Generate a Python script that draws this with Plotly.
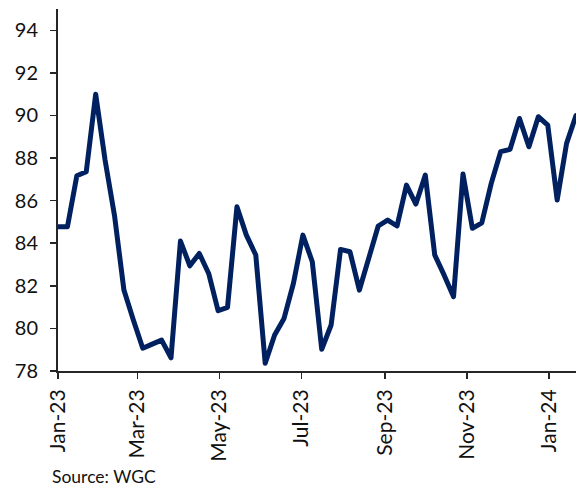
import pandas as pd
import plotly.graph_objects as go

start_date = "2023-01-01"
values = [
    84.77, 84.77, 87.17, 87.36, 91.0, 87.9, 85.3, 81.8, 80.4, 79.07,
    79.26, 79.45, 78.62, 84.1, 82.94, 83.52, 82.58, 80.83, 80.99, 85.71,
    84.38, 83.45, 78.36, 79.69, 80.47, 82.12, 84.38, 83.13, 79.02, 80.16,
    83.71, 83.60, 81.80, 83.29, 84.81, 85.09, 84.81, 86.73, 85.84, 87.2,
    83.45, 82.5, 81.49, 87.25, 84.70, 84.96, 86.81, 88.3, 88.41, 89.86,
    88.53, 89.94, 89.55, 86.03, 88.69, 90.0,
]
dates = pd.date_range(start_date, periods=len(values), freq="7D")

tick_dates = ["2023-01-01", "2023-03-01", "2023-05-01", "2023-07-01",
              "2023-09-01", "2023-11-01", "2024-01-01"]
tick_labels = ["Jan-23", "Mar-23", "May-23", "Jul-23", "Sep-23", "Nov-23", "Jan-24"]
y_ticks = [78, 80, 82, 84, 86, 88, 90, 92, 94]
source_text = "Source: WGC"

fig = go.Figure()
fig.add_trace(go.Scatter(
    x=dates, y=values, mode="lines",
    line=dict(color="#002060", width=5),
    hoverinfo="skip",
))

axis_color = "#262626"
font_family = "Lato"

fig.update_layout(
    width=576, height=486,
    margin=dict(l=58, r=0, t=9, b=115, autoexpand=False),
    paper_bgcolor="white", plot_bgcolor="white",
    showlegend=False,
    font=dict(family=font_family, color="#111111", size=20),
    xaxis=dict(
        range=[dates[0], dates[-1]],
        tickmode="array", tickvals=tick_dates, ticktext=tick_labels,
        tickangle=-90, ticks="outside", ticklen=6, tickwidth=1.5,
        tickcolor=axis_color, showline=True, linecolor=axis_color,
        linewidth=2, showgrid=False, zeroline=False, automargin=False,
        tickfont=dict(family=font_family, size=21, color="#111111"),
        ticklabelstandoff=2,
    ),
    yaxis=dict(
        range=[78, 95],
        tickmode="array", tickvals=y_ticks,
        ticks="outside", ticklen=6, tickwidth=1.5, tickcolor=axis_color,
        showline=True, linecolor=axis_color, linewidth=2,
        showgrid=False, zeroline=False, automargin=False,
        tickfont=dict(family=font_family, size=20, color="#111111"),
        ticklabelstandoff=8,
    ),
    annotations=[dict(
        text=source_text, xref="paper", yref="paper",
        x=-8 / 518, y=-0.292, xanchor="left", yanchor="middle",
        showarrow=False, font=dict(family=font_family, size=17.5, color="#111111"),
    )],
)

fig.write_html(
    "out.html",
    config={"displayModeBar": False, "staticPlot": True},
    post_script=(
        "document.body.style.margin='0';"
        "document.body.style.overflow='hidden';"
        "document.querySelectorAll('.scatterlayer path.js-line').forEach(p=>{p.style.strokeLinejoin='round';p.style.strokeLinecap='round';});"
    ),
)
